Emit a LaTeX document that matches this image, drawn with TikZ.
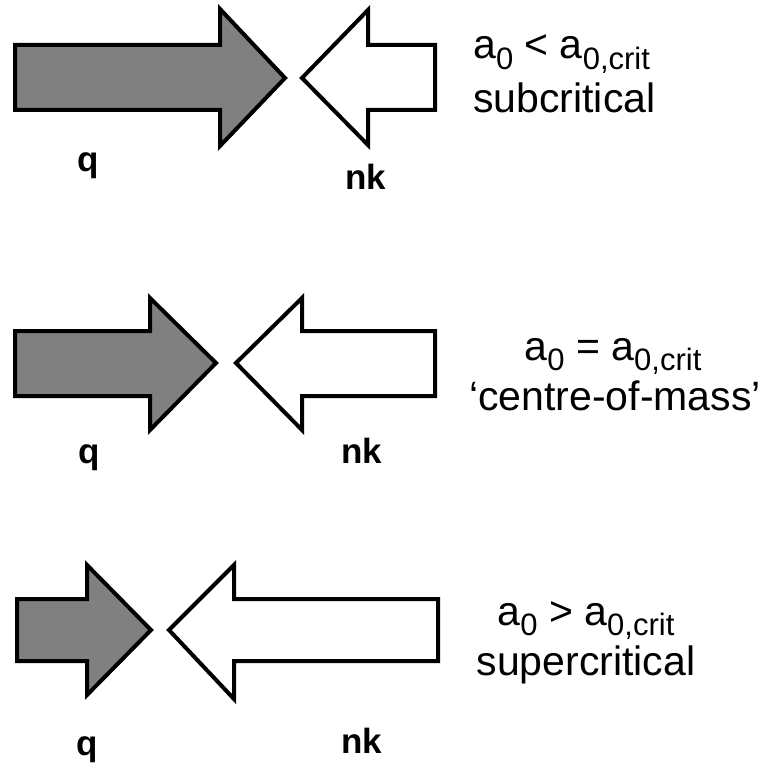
\documentclass[tikz,border=0pt]{standalone}
\usepackage{fontspec}
\setmainfont{Liberation Sans}
\newcommand{\subz}[1]{\raisebox{-10.5pt}{\fontsize{31}{31}\selectfont #1}}
\tikzset{
  qarrow/.style={draw=black, fill=gray50, line width=4pt, line join=miter},
  nkarrow/.style={draw=black, fill=white, line width=4pt, line join=miter},
  lbl/.style={inner sep=0pt, font=\fontsize{35}{35}\selectfont\bfseries},
  txt/.style={inner sep=0pt, font=\fontsize{41}{41}\selectfont}
}
\definecolor{gray50}{RGB}{128,128,128}
\begin{document}
\begin{tikzpicture}[x=1pt,y=-1pt]
\useasboundingbox (0,0) rectangle (767,767);
% Row 1
\draw[qarrow] (15,45) -- (220,45) -- (220,9) -- (285,78) -- (220,146) -- (220,110) -- (15,110) -- cycle;
\draw[nkarrow] (435,45) -- (368,45) -- (368,10) -- (302,78) -- (368,145) -- (368,110) -- (435,110) -- cycle;
\node[lbl, anchor=base] (q1) at (88,172) {q};
\node[lbl, anchor=base] (nk1) at (366,190) {nk};
\node[txt, anchor=base west] (t1a) at (473,59) {a\subz{0} < a\subz{0,crit}};
\node[txt, anchor=base west] (t1b) at (473,113) {subcritical};
% Row 2
\draw[qarrow] (15,331) -- (150,331) -- (150,298) -- (216,363) -- (150,430) -- (150,396) -- (15,396) -- cycle;
\draw[nkarrow] (435,331) -- (302,331) -- (302,298) -- (236,363) -- (302,430) -- (302,396) -- (435,396) -- cycle;
\node[lbl, anchor=base] (q2) at (89,463) {q};
\node[lbl, anchor=base] (nk2) at (362,463) {nk};
\node[txt, anchor=base] (t2a) at (613,360) {a\subz{0} = a\subz{0,crit}};
\node[txt, anchor=base] (t2b) at (615,410) {‘centre-of-mass’};
% Row 3
\draw[qarrow] (17,599) -- (87,599) -- (87,565) -- (151,630) -- (87,695) -- (87,661) -- (17,661) -- cycle;
\draw[nkarrow] (438,599) -- (234,599) -- (234,565) -- (169,630) -- (234,699) -- (234,661) -- (438,661) -- cycle;
\node[lbl, anchor=base] (q3) at (87,755) {q};
\node[lbl, anchor=base] (nk3) at (362,753) {nk};
\node[txt, anchor=base] (t3a) at (586,625) {a\subz{0} > a\subz{0,crit}};
\node[txt, anchor=base] (t3b) at (586,675) {supercritical};
\end{tikzpicture}
\end{document}
